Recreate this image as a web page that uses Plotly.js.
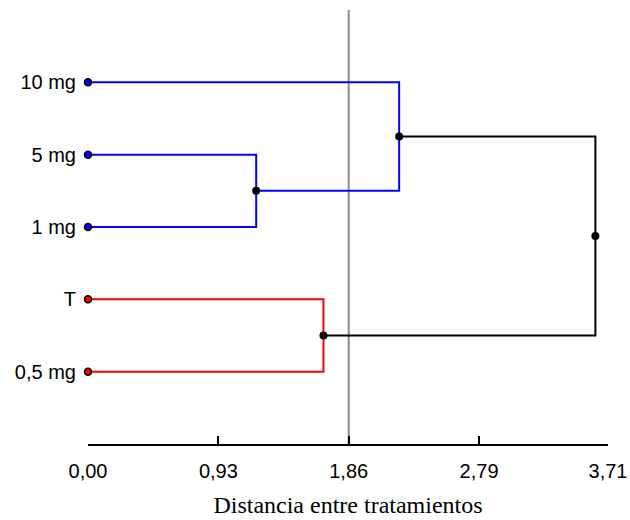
<!DOCTYPE html>
<html>
<head>
<meta charset="utf-8">
<script src="https://cdn.plot.ly/plotly-3.0.1.min.js"></script>
<style>html,body{margin:0;padding:0;background:#fff;}#chart{width:630px;height:520px;}</style>
</head>
<body>
<div id="chart"></div>
<script>
// Leaves (bottom to top)
const leafLabels = ['0,5 mg', 'T', '1 mg', '5 mg', '10 mg'];
const leafPos = [1, 2, 3, 4, 5];
const leafColors = ['#ff0000', '#ff0000', '#0000ff', '#0000ff', '#0000ff'];
// Merges: children are leaf indices (0..4) or merge ids ('m0'..)
const mergeChildA = [3, 1, 4, 'm2'];
const mergeChildB = [2, 0, 'm0', 'm1'];
const mergeHeight = [1.20, 1.68, 2.22, 3.62];
const mergeColors = ['#0000ff', '#ff0000', '#0000ff', '#000000'];
// Axis
const xTickVals = [0, 0.93, 1.86, 2.79, 3.71];
const xTickText = ['0,00', '0,93', '1,86', '2,79', '3,71'];
const cutLine = 1.86;

function childXY(c, mergeY) {
  if (typeof c === 'number') return [0, leafPos[c]];
  const i = parseInt(c.slice(1));
  return [mergeHeight[i], mergeY[i]];
}

const traces = [];
const mergeY = [];
const nodeX = [], nodeY = [];
for (let i = 0; i < mergeHeight.length; i++) {
  const [x1, y1] = childXY(mergeChildA[i], mergeY);
  const [x2, y2] = childXY(mergeChildB[i], mergeY);
  const h = mergeHeight[i];
  mergeY.push((y1 + y2) / 2);
  traces.push({
    type: 'scatter', mode: 'lines',
    x: [x1, h, h, x2], y: [y1, y1, y2, y2],
    line: {color: mergeColors[i], width: 2},
    hoverinfo: 'skip', showlegend: false, cliponaxis: false
  });
  nodeX.push(h); nodeY.push((y1 + y2) / 2);
}
// cut line
traces.unshift({
  type: 'scatter', mode: 'lines',
  x: [cutLine, cutLine], y: [0, 6],
  line: {color: '#8c8c8c', width: 2},
  hoverinfo: 'skip', showlegend: false
});
// node markers
traces.push({
  type: 'scatter', mode: 'markers', x: nodeX, y: nodeY,
  marker: {color: '#000', size: 8},
  showlegend: false, cliponaxis: false
});
// leaf markers
traces.push({
  type: 'scatter', mode: 'markers',
  x: leafPos.map(() => 0), y: leafPos,
  marker: {color: leafColors, size: 7, line: {color: '#000', width: 1.5}},
  showlegend: false, cliponaxis: false
});

const layout = {
  width: 630, height: 520,
  margin: {l: 88, r: 22, t: 10, b: 76},
  paper_bgcolor: '#fff', plot_bgcolor: '#fff',
  font: {family: 'Liberation Sans, Arial, sans-serif', size: 20, color: '#000'},
  xaxis: {
    range: [0, 3.71], tickvals: xTickVals, ticktext: xTickText,
    showgrid: false, zeroline: false, showline: true, linecolor: '#000', linewidth: 2,
    ticks: 'inside', ticklen: 8, tickwidth: 2, tickcolor: '#000',
    tickfont: {size: 20}, ticklabelstandoff: 8,
    title: {text: 'Distancia entre tratamientos', font: {family: 'Liberation Serif, Times New Roman, serif', size: 24}, standoff: 15}
  },
  yaxis: {
    range: [0, 6], tickvals: leafPos, ticktext: leafLabels,
    showgrid: false, zeroline: false, showline: false, ticks: '',
    tickfont: {size: 20}, ticklabelstandoff: 11
  }
};
Plotly.newPlot('chart', traces, layout, {displayModeBar: false, staticPlot: true});
</script>
</body>
</html>
